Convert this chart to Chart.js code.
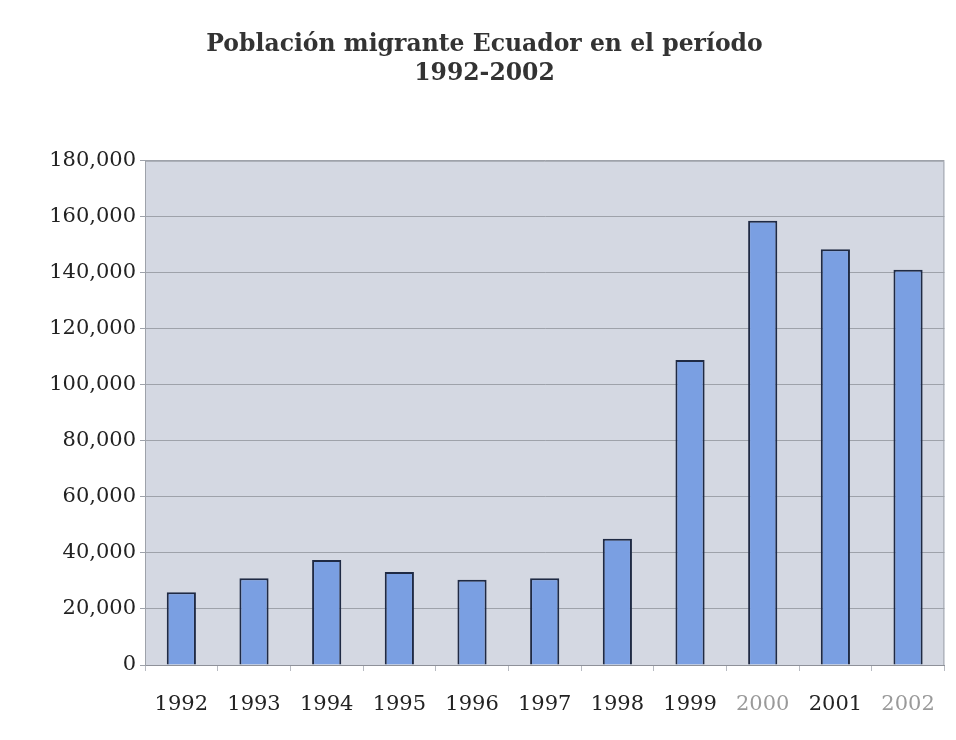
<!DOCTYPE html>
<html lang="es">
<head>
<meta charset="UTF-8">
<title>Población migrante Ecuador 1992-2002</title>
<script src="https://cdn.jsdelivr.net/npm/chart.js@4.4.0/dist/chart.umd.min.js"></script>
<style>
    body { margin: 0; background: #ffffff; }
    .chart-container { position: relative; width: 956px; height: 740px; }
</style>
</head>
<body>
<div class="chart-container">
    <canvas id="migrantChart" width="956" height="740"></canvas>
</div>
<script>
    // Years and number of emigrants per year
    const years = ['1992', '1993', '1994', '1995', '1996', '1997', '1998', '1999', '2000', '2001', '2002'];
    const migrants = [26000, 31000, 37500, 33200, 30400, 31000, 45100, 108900, 158600, 148400, 141100];
    const yearColors = ['#222', '#222', '#222', '#222', '#222', '#222', '#222', '#222', '#9a9a9a', '#222', '#9a9a9a'];

    const titleLines = ['Población migrante Ecuador en el período', '1992-2002'];

    // Grey-blue fill behind the plot area
    const plotBackground = {
        id: 'plotBackground',
        beforeDraw(chart) {
            const { ctx, chartArea: a } = chart;
            ctx.save();
            ctx.fillStyle = '#d4d8e2';
            ctx.fillRect(a.left, a.top, a.right - a.left, a.bottom - a.top);
            ctx.restore();
        },
        afterDatasetsDraw(chart) {
            const { ctx, chartArea: a } = chart;
            ctx.save();
            ctx.strokeStyle = '#9ea2aa';
            ctx.lineWidth = 1;
            ctx.beginPath();
            ctx.moveTo(a.left, a.top + 0.5);
            ctx.lineTo(a.right - 0.5, a.top + 0.5);
            ctx.lineTo(a.right - 0.5, a.bottom);
            ctx.stroke();
            ctx.restore();
        }
    };

    new Chart(document.getElementById('migrantChart'), {
        type: 'bar',
        data: {
            labels: years,
            datasets: [{
                data: migrants,
                backgroundColor: '#7a9fe2',
                borderColor: '#1f2a44',
                borderWidth: 2,
                barPercentage: 0.55,
                categoryPercentage: 0.73
            }]
        },
        options: {
            responsive: false,
            animation: false,
            layout: { padding: { left: 18, right: 5, top: 0, bottom: 15 } },
            plugins: {
                legend: { display: false },
                tooltip: { enabled: false },
                title: {
                    display: true,
                    text: titleLines,
                    color: '#333',
                    font: { family: 'DejaVu Serif', size: 23.5, weight: 'bold', lineHeight: 1.25 },
                    padding: { top: 30, bottom: 72 }
                }
            },
            scales: {
                x: {
                    grid: { display: true, drawOnChartArea: false, drawTicks: true, tickLength: 6, color: '#b8bbc2' },
                    border: { color: '#8e9199' },
                    ticks: {
                        color: yearColors,
                        padding: 21,
                        font: { family: 'DejaVu Serif', size: 21 }
                    },
                    afterFit(scale) { scale.height = 60; }
                },
                y: {
                    min: 0,
                    max: 180000,
                    grid: { color: '#9ea2aa', tickLength: 5 },
                    border: { color: '#9ea2aa' },
                    ticks: {
                        stepSize: 20000,
                        color: '#222',
                        padding: 4,
                        font: { family: 'DejaVu Serif', size: 21 },
                        callback: v => v.toLocaleString('en-US')
                    },
                    afterFit(scale) { scale.width = 127; }
                }
            }
        },
        plugins: [plotBackground]
    });
</script>
</body>
</html>
